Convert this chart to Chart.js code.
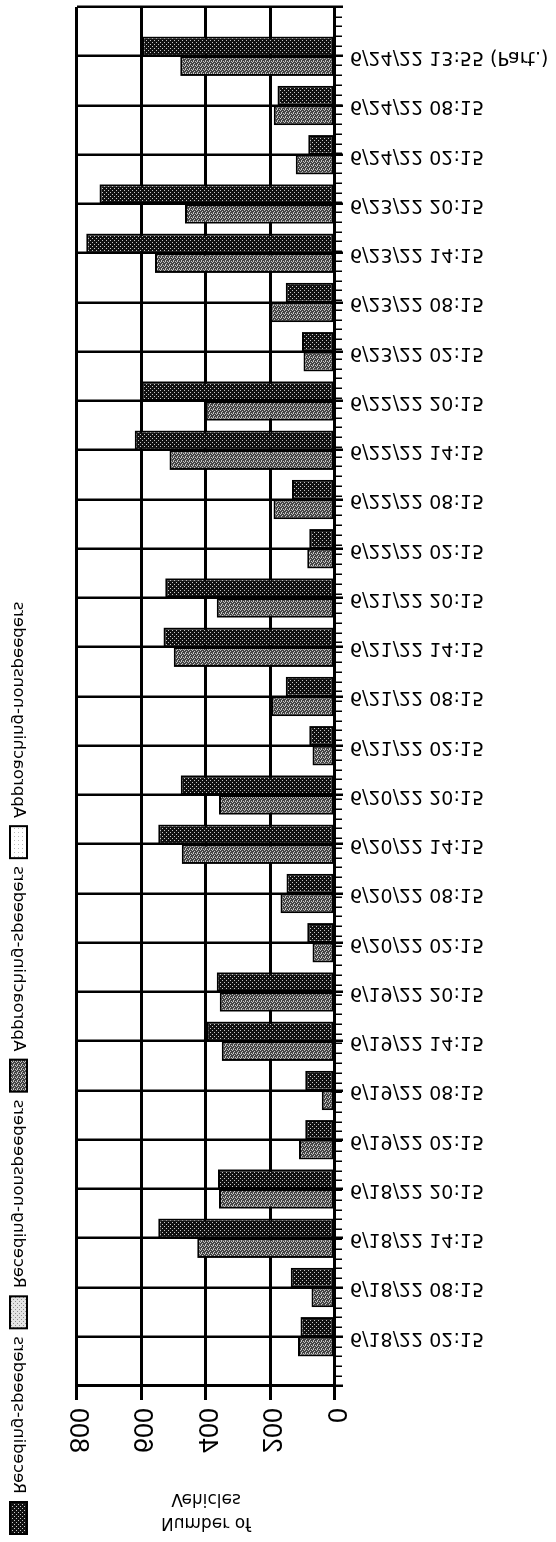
<!DOCTYPE html>
<html>
<head>
<meta charset="utf-8">
<script src="https://cdn.jsdelivr.net/npm/chart.js@4.4.0/dist/chart.umd.min.js"></script>
<style>
html, body { margin:0; padding:0; background:#fff; overflow:hidden; width:556px; height:1542px; }
/* the chart is drawn lying on its side and turned into the page */
#turn { position:absolute; left:0; top:0; width:1542px; height:556px; transform-origin:0 0; transform:matrix(0,-1,-1,0,556,1542); }
</style>
</head>
<body>
<div id="turn"><canvas id="myChart" width="1542" height="556"></canvas></div>
<script>
const categories = ['6/18/22 02:15', '6/18/22 08:15', '6/18/22 14:15', '6/18/22 20:15',
    '6/19/22 02:15', '6/19/22 08:15', '6/19/22 14:15', '6/19/22 20:15',
    '6/20/22 02:15', '6/20/22 08:15', '6/20/22 14:15', '6/20/22 20:15',
    '6/21/22 02:15', '6/21/22 08:15', '6/21/22 14:15', '6/21/22 20:15',
    '6/22/22 02:15', '6/22/22 08:15', '6/22/22 14:15', '6/22/22 20:15',
    '6/23/22 02:15', '6/23/22 08:15', '6/23/22 14:15', '6/23/22 20:15',
    '6/24/22 02:15', '6/24/22 08:15', '6/24/22 13:55 (Part.)'];

const recedingSpeeders = [107, 137, 548, 363, 92, 92, 398, 367, 86, 150, 548, 478, 80, 153,
    532, 526, 80, 133, 621, 599, 102, 153, 771, 730, 83, 178, 598];
const approachingSpeeders = [115, 73, 427, 360, 112, 41, 351, 357, 70, 169, 475, 360, 70, 197,
    500, 367, 86, 191, 513, 401, 98, 200, 558, 465, 122, 190, 480];

const seriesNames = ['Receding-speeders', 'Receding-nonspeeders', 'Approaching-speeders', 'Approaching-nonspeeders'];
const yMax = 800;
const yStep = 200;
const axisTitle = ['Number of', 'Vehicles'];

// one empty slot at each end of the time axis
const axisLabels = [''].concat(categories, ['']);
function pad(arr) { return [null].concat(arr, [null]); }

function stipple(bg, fg, pts) {
    const c = document.createElement('canvas');
    c.width = 4; c.height = 4;
    const g = c.getContext('2d');
    g.fillStyle = bg;
    g.fillRect(0, 0, 4, 4);
    g.fillStyle = fg;
    pts.forEach(function(p) { g.fillRect(p[0], p[1], 1, 1); });
    return g.createPattern(c, 'repeat');
}

const fillBlack = stipple('#111111', '#c8c8c8', [[1, 1], [3, 3]]);
const fillLight = stipple('#e4e4e4', '#8c8c8c', [[0, 0], [2, 2]]);
const fillGray = stipple('#444444', '#c4c4c4', [[0, 0], [2, 1], [1, 2], [3, 3], [0, 2]]);
const fillWhite = stipple('#ffffff', '#b8b8b8', [[1, 1]]);

const labelFont = "'DejaVu Sans', sans-serif";

const ctx = document.getElementById('myChart').getContext('2d');
const myChart = new Chart(ctx, {
    type: 'bar',
    data: {
        labels: axisLabels,
        datasets: [
            {
                label: seriesNames[0],
                data: pad(recedingSpeeders),
                backgroundColor: fillBlack,
                stack: 'rec', order: 1,
            },
            {
                label: seriesNames[1],
                data: [],
                backgroundColor: fillLight,
                stack: 'rec', order: 1,
            },
            {
                label: seriesNames[2],
                data: pad(approachingSpeeders),
                backgroundColor: fillGray,
                stack: 'app', order: 0,
            },
            {
                label: seriesNames[3],
                data: [],
                backgroundColor: fillWhite,
                stack: 'app', order: 0,
            }
        ]
    },
    options: {
        responsive: false,
        animation: false,
        devicePixelRatio: 1,
        layout: { padding: { left: 0, right: 4, top: 0, bottom: 0 } },
        datasets: {
            bar: {
                xAxisID: 'x',
                yAxisID: 'y',
                borderColor: '#000',
                borderWidth: 2,
                borderSkipped: false,
                barPercentage: 1,
                categoryPercentage: 0.8,
            }
        },
        plugins: {
            tooltip: { enabled: false },
            legend: {
                position: 'bottom',
                align: 'start',
                labels: {
                    boxWidth: 32,
                    boxHeight: 17,
                    padding: 8,
                    color: '#000',
                    font: { family: labelFont, size: 16.5 },
                    sort: function(a, b) { return a.datasetIndex - b.datasetIndex; }
                }
            }
        },
        scales: {
            x: {
                type: 'category',
                position: 'top',
                offset: false,
                weight: 1,
                grid: { offset: false, color: '#000', lineWidth: 2.5, tickLength: 8 },
                border: { color: '#000', width: 3 },
                ticks: {
                    autoSkip: false, minRotation: 90, maxRotation: 90, padding: 7, labelOffset: 22,
                    color: '#000', font: { family: labelFont, size: 19 }
                },
                afterFit: function(s) { s.height = 221; }
            },
            y: {
                type: 'linear',
                position: 'left',
                reverse: true,
                min: 0,
                max: yMax,
                grid: { color: '#000', lineWidth: 3, tickLength: 14 },
                border: { color: '#000', width: 3 },
                ticks: {
                    stepSize: yStep, padding: 8, color: '#000',
                    font: { family: "'Liberation Sans Narrow', 'Liberation Sans', sans-serif", size: 27 }
                },
                title: {
                    display: true,
                    text: axisTitle,
                    color: '#000',
                    padding: { top: 8, bottom: 0 },
                    font: { family: labelFont, size: 17, lineHeight: 1.4 }
                },
                afterFit: function(s) { s.width = 156; }
            },
            xMinor: {
                type: 'linear',
                position: 'top',
                weight: 0,
                min: 0,
                max: axisLabels.length - 1,
                grid: { drawOnChartArea: false, color: '#000', lineWidth: 1.5, tickLength: 7 },
                border: { display: false },
                ticks: { display: false, stepSize: 0.2, maxTicksLimit: 200 },
                afterFit: function(s) { s.height = 0; }
            },
            gap: {
                type: 'linear',
                position: 'bottom',
                grid: { display: false, drawTicks: false },
                border: { display: false },
                ticks: { display: false },
                afterFit: function(s) { s.height = 42; }
            }
        }
    }
});
</script>
</body>
</html>
